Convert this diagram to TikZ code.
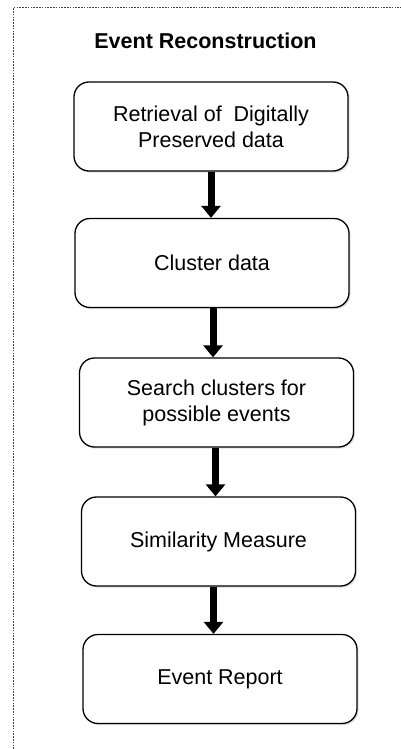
\documentclass[tikz,border=0pt]{standalone}
\usepackage{fontspec}
\setmainfont{Liberation Sans}
\usetikzlibrary{arrows.meta,shadows}

\tikzset{
  stepbox/.style={
    draw=black, line width=1.3pt, rounded corners=15pt, fill=white,
    minimum width=274pt, minimum height=89pt, inner sep=2pt,
    align=center, font=\fontsize{21.5}{26}\selectfont,
    drop shadow={shadow xshift=1.6pt, shadow yshift=-1.6pt, opacity=0.25}
  },
  flow/.style={
    line width=7pt,
    -{Triangle[width=19pt,length=12pt]}
  },
  frame/.style={
    line width=1pt, draw=black!75, dash pattern=on 1.6pt off 1.2pt
  },
  heading/.style={font=\bfseries\fontsize{21.5}{26}\selectfont}
}

\begin{document}
\begin{tikzpicture}[x=1pt,y=-1pt]
  \useasboundingbox (0,0) rectangle (401,749);

  % dotted enclosing frame (only top and left edges fall inside the page)
  \coordinate (fa) at (13.3,749);
  \coordinate (fb) at (13.3,7.5);
  \coordinate (fc) at (401,7.5);
  \draw[frame] (fa) -- (fb) -- (fc);

  \node[heading, anchor=base] (title) at (205.5,49) {Event Reconstruction};

  \node[stepbox] (b1) at (211,126.5) {Retrieval of~ Digitally\\Preserved data};
  \node[stepbox] (b2) at (212,263)   {Cluster data};
  \node[stepbox] (b3) at (216.5,402.5) {Search clusters for\\possible events};
  \node[stepbox] (b4) at (218.5,541.5) {Similarity Measure};
  \node[stepbox] (b5) at (220,679)   {Event Report};

  \draw[flow] (b1.south) -- (b1.south |- b2.north);
  \draw[flow] ([xshift=1pt]b2.south) -- ([xshift=1pt]b2.south |- b3.north);
  \draw[flow] ([xshift=-1pt]b3.south) -- ([xshift=-1pt]b3.south |- b4.north);
  \draw[flow] ([xshift=-5pt]b4.south) -- ([xshift=-5pt]b4.south |- b5.north);
\end{tikzpicture}
\end{document}
